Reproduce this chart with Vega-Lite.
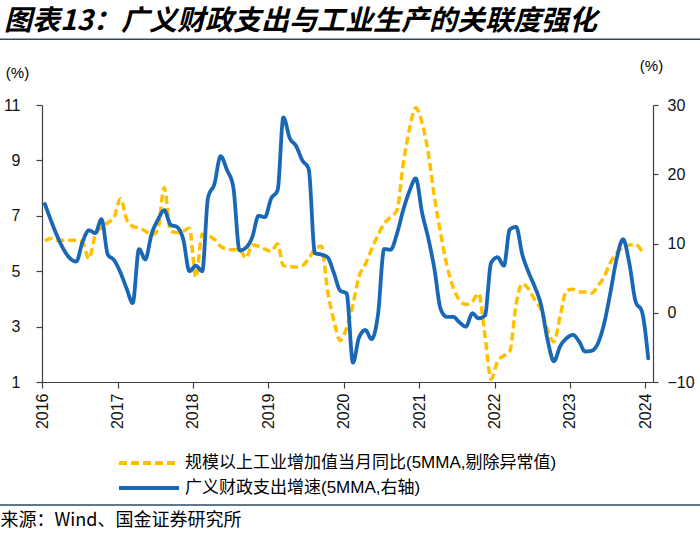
{
  "$schema": "https://vega.github.io/schema/vega-lite/v6.json",
  "width": 611,
  "height": 277,
  "autosize": {"type": "none"},
  "padding": {"left": 42, "top": 105, "right": 47, "bottom": 156},
  "background": "white",
  "title": {
    "text": "图表13：广义财政支出与工业生产的关联度强化",
    "anchor": "start",
    "frame": "group",
    "dx": -38,
    "offset": 3,
    "fontSize": 28,
    "font": "Noto Sans CJK SC",
    "fontWeight": "bold",
    "fontStyle": "italic",
    "color": "#000000"
  },
  "datasets": {
    "ip": [
      {"d": "2016-01-15", "v": 6.1}, {"d": "2016-02-15", "v": 6.18}, {"d": "2016-03-15", "v": 6.12}, {"d": "2016-04-15", "v": 6.12},
      {"d": "2016-05-15", "v": 6.12}, {"d": "2016-06-15", "v": 6.12}, {"d": "2016-07-15", "v": 6.05}, {"d": "2016-08-15", "v": 5.45},
      {"d": "2016-09-15", "v": 6.3}, {"d": "2016-10-15", "v": 6.58}, {"d": "2016-11-15", "v": 6.75}, {"d": "2016-12-15", "v": 6.95},
      {"d": "2017-01-15", "v": 7.62}, {"d": "2017-02-15", "v": 6.85}, {"d": "2017-03-15", "v": 6.62}, {"d": "2017-04-15", "v": 6.56},
      {"d": "2017-05-15", "v": 6.45}, {"d": "2017-06-15", "v": 6.3}, {"d": "2017-07-15", "v": 6.5}, {"d": "2017-08-15", "v": 8.02},
      {"d": "2017-09-15", "v": 6.45}, {"d": "2017-10-15", "v": 6.4}, {"d": "2017-11-15", "v": 6.45}, {"d": "2017-12-15", "v": 6.55},
      {"d": "2018-01-15", "v": 4.78}, {"d": "2018-02-15", "v": 6.33}, {"d": "2018-03-15", "v": 6.28}, {"d": "2018-04-15", "v": 6.15},
      {"d": "2018-05-15", "v": 5.9}, {"d": "2018-06-15", "v": 5.8}, {"d": "2018-07-15", "v": 5.77}, {"d": "2018-08-15", "v": 5.78},
      {"d": "2018-09-15", "v": 5.47}, {"d": "2018-10-15", "v": 5.95}, {"d": "2018-11-15", "v": 5.9}, {"d": "2018-12-15", "v": 5.8},
      {"d": "2019-01-15", "v": 5.72}, {"d": "2019-02-15", "v": 5.98}, {"d": "2019-03-15", "v": 5.2}, {"d": "2019-04-15", "v": 5.17},
      {"d": "2019-05-15", "v": 5.15}, {"d": "2019-06-15", "v": 5.2}, {"d": "2019-07-15", "v": 5.45}, {"d": "2019-08-15", "v": 5.8},
      {"d": "2019-09-15", "v": 5.9}, {"d": "2019-10-15", "v": 4.3}, {"d": "2019-11-15", "v": 3.2}, {"d": "2019-12-15", "v": 2.5},
      {"d": "2020-01-15", "v": 2.95}, {"d": "2020-02-15", "v": 3.8}, {"d": "2020-03-15", "v": 4.8}, {"d": "2020-04-15", "v": 5.25},
      {"d": "2020-05-15", "v": 5.8}, {"d": "2020-06-15", "v": 6.3}, {"d": "2020-07-15", "v": 6.72}, {"d": "2020-08-15", "v": 6.95},
      {"d": "2020-09-15", "v": 7.2}, {"d": "2020-10-15", "v": 8.85}, {"d": "2020-11-15", "v": 10.15}, {"d": "2020-12-15", "v": 10.9},
      {"d": "2021-01-15", "v": 10.35}, {"d": "2021-02-15", "v": 9.2}, {"d": "2021-03-15", "v": 7.7}, {"d": "2021-04-15", "v": 6.35},
      {"d": "2021-05-15", "v": 5.2}, {"d": "2021-06-15", "v": 4.4}, {"d": "2021-07-15", "v": 3.95}, {"d": "2021-08-15", "v": 3.8},
      {"d": "2021-09-15", "v": 3.9}, {"d": "2021-10-15", "v": 4.2}, {"d": "2021-11-15", "v": 2.7}, {"d": "2021-12-15", "v": 1.1},
      {"d": "2022-01-15", "v": 1.75}, {"d": "2022-02-15", "v": 1.95}, {"d": "2022-03-15", "v": 2.1}, {"d": "2022-04-15", "v": 3.8},
      {"d": "2022-05-15", "v": 4.55}, {"d": "2022-06-15", "v": 4.35}, {"d": "2022-07-15", "v": 3.95}, {"d": "2022-08-15", "v": 3.6},
      {"d": "2022-09-15", "v": 2.85}, {"d": "2022-10-15", "v": 2.45}, {"d": "2022-11-15", "v": 3.4}, {"d": "2022-12-15", "v": 4.3},
      {"d": "2023-01-15", "v": 4.35}, {"d": "2023-02-15", "v": 4.25}, {"d": "2023-03-15", "v": 4.25}, {"d": "2023-04-15", "v": 4.2},
      {"d": "2023-05-15", "v": 4.45}, {"d": "2023-06-15", "v": 4.8}, {"d": "2023-07-15", "v": 5.3}, {"d": "2023-08-15", "v": 5.65},
      {"d": "2023-09-15", "v": 5.88}, {"d": "2023-10-15", "v": 5.95}, {"d": "2023-11-15", "v": 5.96}, {"d": "2023-12-15", "v": 5.72}
    ],
    "fs": [
      {"d": "2016-01-15", "v": 15.7}, {"d": "2016-06-15", "v": 7.4}, {"d": "2016-07-15", "v": 10.2}, {"d": "2016-08-15", "v": 11.9},
      {"d": "2016-09-15", "v": 11.5}, {"d": "2016-10-15", "v": 13.5}, {"d": "2016-11-15", "v": 8.4}, {"d": "2016-12-15", "v": 7.6},
      {"d": "2017-01-15", "v": 5.8}, {"d": "2017-02-15", "v": 3.4}, {"d": "2017-03-15", "v": 1.4}, {"d": "2017-04-15", "v": 9.2},
      {"d": "2017-05-15", "v": 7.7}, {"d": "2017-06-15", "v": 11.4}, {"d": "2017-07-15", "v": 13.4}, {"d": "2017-08-15", "v": 14.8},
      {"d": "2017-09-15", "v": 12.7}, {"d": "2017-10-15", "v": 12.4}, {"d": "2017-11-15", "v": 10.6}, {"d": "2017-12-15", "v": 6.0},
      {"d": "2018-01-15", "v": 6.8}, {"d": "2018-02-15", "v": 6.0}, {"d": "2018-03-15", "v": 16.6}, {"d": "2018-04-15", "v": 18.6},
      {"d": "2018-05-15", "v": 22.6}, {"d": "2018-06-15", "v": 20.6}, {"d": "2018-07-15", "v": 18.2}, {"d": "2018-08-15", "v": 9.0},
      {"d": "2018-09-15", "v": 9.4}, {"d": "2018-10-15", "v": 10.9}, {"d": "2018-11-15", "v": 14.0}, {"d": "2018-12-15", "v": 13.8},
      {"d": "2019-01-15", "v": 16.5}, {"d": "2019-02-15", "v": 17.7}, {"d": "2019-03-15", "v": 28.2}, {"d": "2019-04-15", "v": 25.2},
      {"d": "2019-05-15", "v": 24.1}, {"d": "2019-06-15", "v": 22.0}, {"d": "2019-07-15", "v": 20.8}, {"d": "2019-08-15", "v": 8.6},
      {"d": "2019-09-15", "v": 8.4}, {"d": "2019-10-15", "v": 8.0}, {"d": "2019-11-15", "v": 5.7}, {"d": "2019-12-15", "v": 3.2},
      {"d": "2020-01-15", "v": 2.8}, {"d": "2020-02-15", "v": -7.2}, {"d": "2020-03-15", "v": -3.6}, {"d": "2020-04-15", "v": -2.5},
      {"d": "2020-05-15", "v": -3.8}, {"d": "2020-06-15", "v": -0.3}, {"d": "2020-07-15", "v": 9.2}, {"d": "2020-08-15", "v": 9.1},
      {"d": "2020-09-15", "v": 11.4}, {"d": "2020-10-15", "v": 14.8}, {"d": "2020-11-15", "v": 17.6}, {"d": "2020-12-15", "v": 19.4},
      {"d": "2021-01-15", "v": 14.4}, {"d": "2021-02-15", "v": 10.6}, {"d": "2021-03-15", "v": 6.4}, {"d": "2021-04-15", "v": 0.5},
      {"d": "2021-05-15", "v": -0.6}, {"d": "2021-06-15", "v": -0.6}, {"d": "2021-07-15", "v": -1.4}, {"d": "2021-08-15", "v": -2.0},
      {"d": "2021-09-15", "v": -0.1}, {"d": "2021-10-15", "v": -0.8}, {"d": "2021-11-15", "v": -0.4}, {"d": "2021-12-15", "v": 7.2},
      {"d": "2022-01-15", "v": 8.0}, {"d": "2022-02-15", "v": 6.8}, {"d": "2022-03-15", "v": 12.0}, {"d": "2022-04-15", "v": 12.4},
      {"d": "2022-05-15", "v": 8.4}, {"d": "2022-06-15", "v": 5.8}, {"d": "2022-07-15", "v": 3.7}, {"d": "2022-08-15", "v": 1.0},
      {"d": "2022-09-15", "v": -4.0}, {"d": "2022-10-15", "v": -7.0}, {"d": "2022-11-15", "v": -4.8}, {"d": "2022-12-15", "v": -3.7},
      {"d": "2023-01-15", "v": -3.2}, {"d": "2023-02-15", "v": -4.2}, {"d": "2023-03-15", "v": -5.6}, {"d": "2023-04-15", "v": -5.5},
      {"d": "2023-05-15", "v": -4.5}, {"d": "2023-06-15", "v": -1.6}, {"d": "2023-07-15", "v": 2.8}, {"d": "2023-08-15", "v": 7.8},
      {"d": "2023-09-15", "v": 10.6}, {"d": "2023-10-15", "v": 7.2}, {"d": "2023-11-15", "v": 1.6}, {"d": "2023-12-15", "v": 0.2},
      {"d": "2024-01-15", "v": -6.6}
    ],
    "sep": [
      {"a": "2015-06-01", "b": "2024-10-01"}
    ]
  },
  "layer": [
    {
      "layer": [
        {
          "data": {"name": "ip"},
          "mark": {"type": "line", "interpolate": "monotone", "strokeWidth": 3.5, "strokeCap": "butt", "strokeDash": [8, 4]},
          "encoding": {
            "x": {
              "field": "d", "type": "temporal",
              "scale": {"domain": [{"year": 2016, "month": 1, "date": 1}, {"year": 2024, "month": 2, "date": 7}]},
              "axis": {
                "format": "%Y", "tickCount": {"interval": "year", "step": 1},
                "labelAngle": -90, "tickSize": 6, "labelPadding": 5, "labelFontSize": 16,
                "title": "来源：Wind、国金证券研究所", "titleX": -42, "titleY": 138,
                "titleAlign": "left", "titleBaseline": "middle", "titleAnchor": null,
                "titleFontSize": 18, "titleFontWeight": "normal", "titleFont": "Noto Sans CJK SC", "titleColor": "#000000"
              }
            },
            "y": {
              "field": "v", "type": "quantitative",
              "scale": {"domain": [1, 11], "nice": false, "zero": false},
              "axis": {
                "orient": "left", "values": [1, 3, 5, 7, 9, 11], "tickSize": 6, "labelPadding": 16, "labelFontSize": 16,
                "title": "(%)", "titleAngle": 0, "titleX": -25, "titleY": -33, "titleAlign": "center", "titleBaseline": "middle",
                "titleFontSize": 15, "titleFontWeight": "normal", "titleColor": "#000000"
              }
            },
            "stroke": {
              "datum": "规模以上工业增加值当月同比(5MMA,剔除异常值)",
              "scale": {"domain": ["规模以上工业增加值当月同比(5MMA,剔除异常值)"], "range": ["#FFC000"]},
              "legend": {
                "orient": "none", "legendX": 75, "legendY": 326, "title": null, "padding": 0,
                "symbolType": "stroke", "symbolSize": 3600, "symbolStrokeWidth": 4, "symbolDash": [8, 4],
                "labelFontSize": 17, "labelFont": "Liberation Sans, Noto Sans CJK SC", "labelColor": "#000000",
                "labelLimit": 600, "labelOffset": 4
              }
            }
          }
        },
        {
          "data": {"name": "sep"},
          "mark": {"type": "rule", "stroke": "#2d4a63", "strokeWidth": 1.5, "clip": false},
          "encoding": {
            "x": {"field": "a", "type": "temporal"},
            "x2": {"field": "b"},
            "y": {"datum": 13.37, "type": "quantitative"}
          }
        },
        {
          "data": {"name": "sep"},
          "mark": {"type": "rule", "stroke": "#2d4a63", "strokeWidth": 1.5, "clip": false},
          "encoding": {
            "x": {"field": "a", "type": "temporal"},
            "x2": {"field": "b"},
            "y": {"datum": -3.44, "type": "quantitative"}
          }
        }
      ]
    },
    {
      "data": {"name": "fs"},
      "mark": {"type": "line", "interpolate": "monotone", "strokeWidth": 3.8, "strokeCap": "round", "stroke": "#1a68b5"},
      "encoding": {
        "x": {"field": "d", "type": "temporal"},
        "y": {
          "field": "v", "type": "quantitative",
          "scale": {"domain": [-10, 30], "nice": false, "zero": false},
          "axis": {
            "orient": "right", "values": [-10, 0, 10, 20, 30], "tickSize": 5, "labelPadding": 9, "labelFontSize": 16,
            "title": "(%)", "titleAngle": 0, "titleX": -2, "titleY": -40, "titleAlign": "center", "titleBaseline": "middle",
            "titleFontSize": 15, "titleFontWeight": "normal", "titleColor": "#000000"
          }
        },
        "strokeDash": {
          "datum": "广义财政支出增速(5MMA,右轴)",
          "scale": {"domain": ["广义财政支出增速(5MMA,右轴)"], "range": [[1, 0]]},
          "legend": {
            "orient": "none", "legendX": 75, "legendY": 351, "title": null, "padding": 0,
            "symbolType": "stroke", "symbolSize": 3600, "symbolStrokeWidth": 4, "symbolStrokeColor": "#1a68b5",
            "labelFontSize": 17, "labelFont": "Liberation Sans, Noto Sans CJK SC", "labelColor": "#000000",
            "labelLimit": 600, "labelOffset": 4
          }
        }
      }
    }
  ],
  "resolve": {"scale": {"y": "independent"}, "axis": {"y": "independent"}},
  "config": {
    "view": {"stroke": null},
    "font": "Liberation Sans, Noto Sans CJK SC",
    "axis": {
      "grid": false, "domainColor": "#404040", "tickColor": "#404040", "labelColor": "#111111",
      "labelFont": "Liberation Sans", "domainWidth": 1.2, "tickWidth": 1.2
    }
  }
}
